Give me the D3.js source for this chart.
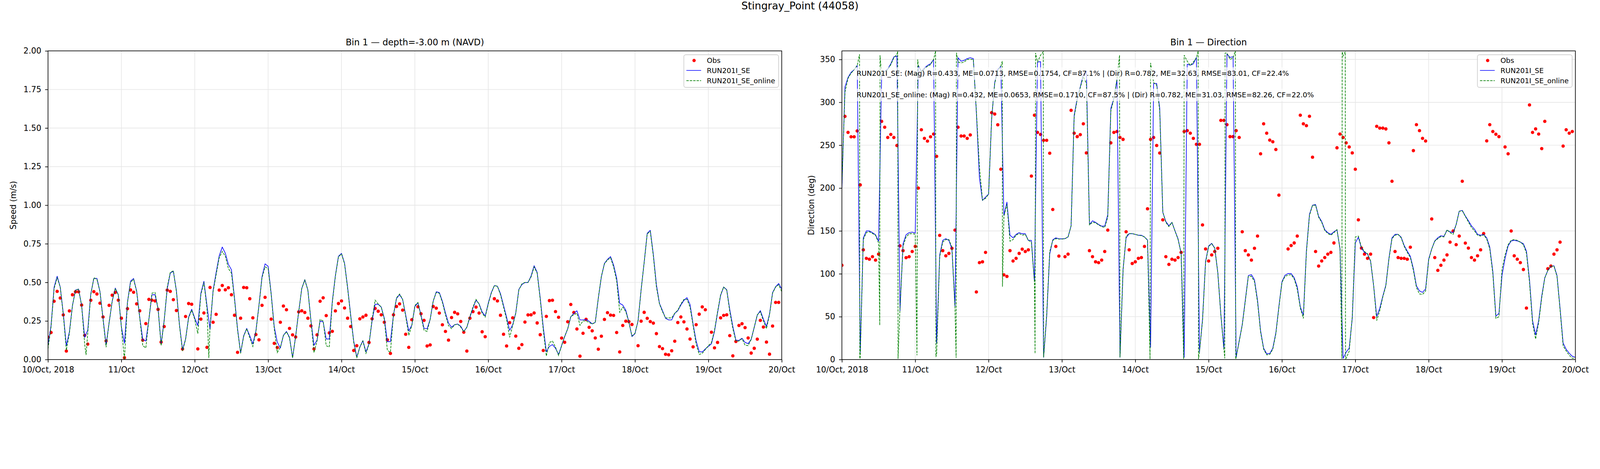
<!DOCTYPE html>
<html><head><meta charset="utf-8">
<script src="https://cdn.jsdelivr.net/npm/d3@7"></script>
<style>
html,body{margin:0;padding:0;background:#fff;overflow:hidden}
#chart{display:block;width:100vw;height:24vw}
text{font-family:"DejaVu Sans",sans-serif;fill:#000}
</style>
</head><body>
<svg id="chart" viewBox="0 0 5000 1200" preserveAspectRatio="xMinYMin meet"></svg>
<script>
// ---------------- DATA ----------------
const startTime = new Date(Date.UTC(2018, 9, 10, 0, 0, 0));
const endTime = new Date(Date.UTC(2018, 9, 20, 0, 0, 0));
const dayTickLabels = ["10/Oct, 2018","11/Oct","12/Oct","13/Oct","14/Oct","15/Oct","16/Oct","17/Oct","18/Oct","19/Oct","20/Oct"];
const speedTicks = [0, 0.25, 0.5, 0.75, 1.0, 1.25, 1.5, 1.75, 2.0];
const dirTicks = [0, 50, 100, 150, 200, 250, 300, 350];
const seriesNames = ["Obs", "RUN201I_SE", "RUN201I_SE_online"];
const figTitle = "Stingray_Point (44058)";
const speedTitle = "Bin 1 \u2014 depth=-3.00 m (NAVD)";
const dirTitle = "Bin 1 \u2014 Direction";
const statLines = [
  "RUN201I_SE: (Mag) R=0.433, ME=0.0713, RMSE=0.1754, CF=87.1% | (Dir) R=0.782, ME=32.63, RMSE=83.01, CF=22.4%",
  "RUN201I_SE_online: (Mag) R=0.432, ME=0.0653, RMSE=0.1710, CF=87.5% | (Dir) R=0.782, ME=31.03, RMSE=82.26, CF=22.0%"
];

// hourly values, 10 Oct 00:00 -> 20 Oct 00:00 (241 points)
const speedObs = [
 0.145,0.175,0.378,0.442,0.399,0.289,0.055,0.315,0.42,0.439,0.439,0.353,0.157,0.10,0.384,0.44,0.425,0.365,0.276,0.121,0.351,0.417,0.435,0.385,
 0.268,0.012,0.33,0.451,0.436,0.361,0.316,0.126,0.233,0.39,0.385,0.38,0.325,0.113,0.214,0.45,0.442,0.388,0.318,null,0.068,0.279,0.363,0.358,
 null,0.069,0.262,0.302,0.079,0.467,0.242,0.293,0.45,0.48,0.452,0.465,0.42,0.287,0.047,0.268,0.467,0.465,0.394,0.27,0.162,0.128,0.351,0.403,
 null,0.262,0.105,0.078,0.242,0.347,0.323,0.202,0.16,0.146,0.309,0.316,0.305,0.268,0.218,0.069,0.16,0.378,0.40,0.285,0.173,0.183,0.315,0.363,
 0.38,0.334,0.268,0.214,0.059,0.09,0.264,0.276,0.287,0.111,0.264,0.331,0.313,0.29,0.242,0.128,0.04,0.29,0.344,0.361,0.32,0.164,0.079,0.258,
 null,0.342,0.297,0.254,0.088,0.095,0.344,0.333,0.301,0.225,0.182,0.126,0.272,0.306,0.296,0.247,0.177,0.055,0.268,0.311,0.34,0.301,0.18,0.148,
 null,null,0.394,0.38,0.287,0.164,0.088,0.239,0.27,0.152,0.073,0.097,0.243,0.289,0.29,0.302,0.237,0.161,0.059,0.28,0.382,0.384,0.311,0.274,
 0.139,0.112,0.245,0.357,0.305,0.198,0.022,0.17,0.261,0.209,0.186,0.14,0.067,0.151,0.26,0.304,0.288,0.286,0.175,0.049,0.221,0.249,0.246,0.227,
 null,0.09,0.249,0.306,0.267,0.246,0.236,0.168,0.084,0.071,0.034,0.031,0.057,0.119,0.24,0.276,0.244,0.198,0.133,0.082,0.226,0.294,0.341,0.323,
 null,0.177,0.076,0.111,0.27,0.286,0.29,0.155,0.024,0.117,0.221,0.232,0.207,0.14,0.042,0.073,0.132,0.254,0.211,0.113,0.035,0.217,0.37,0.37,
 null
];
const speedRun = [
 0.095,0.22,0.47,0.54,0.47,0.30,0.09,0.18,0.35,0.45,0.457,0.35,0.144,0.19,0.427,0.525,0.526,0.44,0.268,0.095,0.24,0.378,0.463,0.42,
 0.213,0.106,0.372,0.508,0.525,0.444,0.275,0.13,0.12,0.26,0.42,0.42,0.33,0.10,0.254,0.458,0.561,0.572,0.447,0.226,0.064,0.133,0.275,0.326,
 0.268,0.22,0.43,0.507,0.35,0.195,0.448,0.565,0.672,0.729,0.689,0.617,0.582,0.40,0.20,0.043,0.154,0.202,0.154,0.102,0.185,0.351,0.537,0.62,
 0.604,0.427,0.213,0.113,0.075,0.157,0.182,0.144,0.012,0.15,0.31,0.46,0.518,0.451,0.254,0.092,0.126,0.25,0.244,0.133,0.133,0.378,0.544,0.669,
 0.688,0.624,0.468,0.289,0.119,0.016,0.081,0.123,0.05,0.102,0.25,0.358,0.358,0.34,0.268,0.116,0.116,0.289,0.396,0.421,0.389,0.289,0.185,0.223,
 0.344,0.368,0.289,0.202,0.2,0.261,0.378,0.439,0.434,0.378,0.302,0.237,0.209,0.226,0.23,0.216,0.182,0.209,0.275,0.334,0.385,0.361,0.309,0.282,
 0.365,0.434,0.479,0.475,0.427,0.351,0.275,0.189,0.226,0.302,0.454,0.486,0.499,0.499,0.541,0.608,0.565,0.399,0.209,0.051,0.085,0.097,0.073,0.033,
 0.091,0.149,0.2,0.277,0.299,0.316,0.257,0.257,0.259,0.248,0.231,0.241,0.397,0.536,0.623,0.649,0.667,0.612,0.528,0.364,0.353,0.319,0.244,0.149,
 0.168,0.251,0.452,0.63,0.818,0.837,0.681,0.485,0.364,0.317,0.267,0.257,0.257,0.299,0.317,0.353,0.383,0.401,0.357,0.23,0.12,0.051,0.049,0.069,
 0.085,0.102,0.182,0.302,0.415,0.47,0.452,0.324,0.215,0.126,0.124,0.138,0.111,0.103,0.131,0.208,0.288,0.317,0.262,0.215,0.295,0.434,0.472,0.493,
 0.457
];
const speedOnline = [
 0.07,0.21,0.46,0.53,0.47,0.29,0.06,0.17,0.35,0.45,0.455,0.35,0.10,0.17,0.42,0.53,0.52,0.44,0.26,0.08,0.24,0.38,0.46,0.42,
 0.21,0.00,0.37,0.50,0.52,0.44,0.27,0.09,0.075,0.26,0.43,0.435,0.33,0.09,0.25,0.47,0.565,0.575,0.44,0.22,0.055,0.13,0.27,0.32,
 0.26,0.168,0.42,0.50,0.33,0.22,0.44,0.55,0.66,0.70,0.67,0.59,0.56,0.39,0.19,0.04,0.15,0.20,0.14,0.085,0.18,0.35,0.53,0.60,
 0.59,0.42,0.20,0.045,0.08,0.155,0.18,0.14,0.01,0.15,0.31,0.46,0.515,0.45,0.25,0.045,0.12,0.26,0.25,0.09,0.081,0.37,0.54,0.665,
 0.685,0.62,0.46,0.28,0.11,0.01,0.08,0.12,0.04,0.10,0.26,0.385,0.36,0.34,0.26,0.06,0.047,0.29,0.40,0.425,0.39,0.28,0.157,0.22,
 0.35,0.37,0.28,0.19,0.182,0.26,0.38,0.435,0.43,0.37,0.29,0.22,0.20,0.225,0.23,0.21,0.18,0.21,0.28,0.34,0.39,0.36,0.30,0.275,
 0.36,0.43,0.48,0.475,0.42,0.34,0.26,0.144,0.22,0.30,0.45,0.49,0.50,0.50,0.535,0.60,0.56,0.39,0.19,0.023,0.11,0.12,0.08,0.026,
 0.09,0.15,0.20,0.28,0.29,0.30,0.222,0.25,0.25,0.24,0.23,0.24,0.40,0.54,0.62,0.645,0.66,0.60,0.51,0.306,0.34,0.31,0.24,0.153,
 0.17,0.25,0.45,0.63,0.815,0.83,0.67,0.47,0.36,0.31,0.27,0.27,0.27,0.30,0.32,0.36,0.39,0.39,0.34,0.22,0.10,0.033,0.04,0.065,
 0.09,0.11,0.19,0.31,0.42,0.47,0.45,0.31,0.20,0.12,0.12,0.135,0.093,0.09,0.13,0.21,0.29,0.31,0.25,0.20,0.29,0.43,0.47,0.485,
 0.44
];
// sub-hourly extremes of the online run, [hour offset, value]
const speedOnlineExtra = [[12.45, 0.03], [52.6, 0.01]];

const dirObs = [
 110,283.6,265,259.8,259.8,266.7,203.7,128,118,117,120,116,123,277.8,271,259,262.6,259,249.7,132.6,127,118.8,120,126,
 132,200,268,258,254.8,259.8,263,237,144.8,127,121,123.8,129.8,151,271,260.7,260.7,258,262,null,78.8,113,114,125,
 null,288,286.4,273.8,222,98.8,97,127,115,118,123.8,128.8,126,128,214,285,265,262.6,255.7,255.7,240.7,175,132,120.7,
 null,120,123,290.7,264,260,262.3,275,241,127,120,114,113,116,126,151,252.8,265,266,259,256.8,149,128,112,
 114,118,119,132,175.8,256.8,259,249.7,240.9,163,120,111,117,116,119,125,266,267,264,258,251,251,157,129,
 115,122,126,129.8,279,279,274,260,260,267,259,149,127,122,116,129.8,144,240,275,264,256,254,245,191.8,
 null,null,129,133,136,144,285,275,272.8,283.8,236,126,109,115,119,123,125,136,247,263,259,252.8,248,241,
 222,163,130,123,118,123,49,272,270,270,269,252.8,208,126,119,118,118,117,131,243.7,274,267,258,254.9,
 null,164,119,104,110,116,122,137,150,134,144,208,135.8,130,119,116,121,128,147,255,274,266,262.8,260,
 null,248,240,150,121,117,113,105,60,297,265,269,263,246,277.8,106,109,123,128,137,249,268,264,266,
 null
];
const dirRun = [
 200,318,329,335,338,343,8.6,142,150,150,148,145.5,138,332,336,339,345,353,354,57,135,145.6,148,148.6,
 147.5,343,336,340,343,345,350,19,122,139,141,139,129,62,352,348,349,351,352,351,288,212,185.5,189.5,
 193,281,323,338.5,342,168,183.6,145,142,146,148,146.7,146.7,139,139,91,347,347.4,2.6,50,123,139.6,142,140.8,
 140.8,141,143,156,285,304.7,318,332.6,336,157.5,161.8,160,157.5,155.6,155.6,169,293,304.7,326.7,2.6,105,142,146.8,146.8,
 146,145,145,143,139.6,14.5,322,322,293,171.8,161,156,160,150,140.8,124,2.6,344.5,343.3,345,352.4,8.6,46.7,114.6,
 132.5,135.6,130,101.5,52.7,12,356.4,352.4,353.3,2.6,21.7,40.7,69.3,98,99,93,69.3,33.6,13.3,6.7,7,13.3,31.2,62.2,
 90.8,98.4,100.3,100.3,95.5,85,61.5,51.5,127,169.4,180,180.8,167,161,151.5,148,146,149,151.5,129,1.4,8.6,13.3,48,
 136,142.7,130,125,123,114.6,86,50.3,59.8,74,87,118,142,146,146,142.7,133,126.5,120.5,106,86,80,78.4,82.4,
 117,129,138.4,142,144.4,143.7,150.8,149,148,157.5,173,174,167.5,162,156,152,146,145,146,142,131,102.7,50.7,53.8,
 98,118,132.5,138.4,139,138.4,137,135,126.5,93,45.5,28.8,45.5,74,95.5,104,108.6,109.4,98,59.8,19.3,12,7.4,3.8,
 2.6
];
const dirOnline = [
 205,312,328,334,338,343,2.6,140,148,149,147,145,136,332,336,338,344,352,356,60,132,143,146.5,147,
 146,343,336,339,342,344,350,6,120,137,140,140,131,60,347,346,347,350,350,350,290,225,186,188,
 193,282,322,337,342,167,181,138,140,145,147,145,146,139,137,90,347,355,2.6,52,126,139,141,140.5,
 140.5,141,143,156,283,303,317,330,322,157,160,159.5,157,155,154,166,290,304,327,2.6,104,144,147,147,
 146,145,144.5,143,139,346,323,320,290,172,160,155,160,150,140,124,355,348,343,347,352,9,45,113,
 132,135,130,101,52,12,357.6,350,352,2.6,21,40,68,97,97,91,67,32,12,5.5,6,12,30,61,
 90,97,98.5,99,94,82,60,48,125,168,180,180,166,160,150.5,147,145,148,151.5,129,354,1.4,9.8,50,
 143,144,131,126,123.5,115,86,45.5,57,73,86,117,141,145,146,142,132,125,119,104,84,76.5,76,80,
 116,129,138,141,143.5,143,151.5,148,146,157.5,173,173.5,167,160.5,154,150,145,144,145.5,140.5,129,100,48,50,
 105,122,134,139,140,139,137,134,124,90,42,24,43,72,95,104,109,109,97,58,16,10,5,1.5,
 1.4
];
const dirOnlineExtra = [
 [5.77,356],[5.85,1],[12.39,40],[12.47,355],[18.26,359.5],[18.37,1],[24.56,5],[24.8,350],
 [30.65,359.9],[30.75,3],[37.37,2],[37.48,358],[52.48,348],[52.54,85],[63.2,7],[63.37,357.6],
 [65.88,359],[90.85,355],[100.83,0.5],[111.83,0.5],[116.58,359.8],[116.69,0.5],
 [125.28,1.4],[125.39,357.6],[128.75,360],[128.86,0.5],[163.6,1],[163.7,359],[164.7,359],[164.8,1]
];

// ---------------- DRAW ----------------
const svg = d3.select("#chart");
const FONT = "DejaVu Sans, sans-serif";
const plotTop = 159, plotBottom = 1123;
const HOUR = 3600e3;
const tAt = h => new Date(startTime.getTime() + h * HOUR);
const hourly = arr => arr.map((v, i) => ({h: i, v}));
const withExtra = (arr, extra) => hourly(arr).concat(extra.map(([h, v]) => ({h, v}))).sort((a, b) => a.h - b.h);
const dayTicks = d3.utcDay.range(startTime, new Date(endTime.getTime() + 1));

svg.append("rect").attr("width", 5000).attr("height", 1200).attr("fill", "#fff");

svg.append("text").attr("x", 2500).attr("y", 29).attr("text-anchor", "middle")
  .attr("font-size", 32).text(figTitle);

const panels = [
  {id: "spd", x0: 150, x1: 2443, domain: [0, 2], ticks: speedTicks, fmt: d3.format(".2f"),
   title: speedTitle, ylabel: "Speed (m/s)", ylabelX: 42,
   obs: speedObs, run: speedRun, online: withExtra(speedOnline, speedOnlineExtra), stats: false},
  {id: "dir", x0: 2631, x1: 4923, domain: [0, 360], ticks: dirTicks, fmt: d3.format("d"),
   title: dirTitle, ylabel: "Direction (deg)", ylabelX: 2536,
   obs: dirObs, run: dirRun, online: withExtra(dirOnline, dirOnlineExtra), stats: true}
];

panels.forEach(p => {
  const x = d3.scaleUtc().domain([startTime, endTime]).range([p.x0, p.x1]);
  const y = d3.scaleLinear().domain(p.domain).range([plotBottom, plotTop]);
  const g = svg.append("g");

  g.append("clipPath").attr("id", "clip-" + p.id).append("rect")
    .attr("x", p.x0).attr("y", plotTop).attr("width", p.x1 - p.x0).attr("height", plotBottom - plotTop);

  // grid
  const grid = g.append("g").attr("stroke", "#e6e6e6").attr("stroke-width", 2);
  grid.selectAll("line.v").data(dayTicks).join("line")
    .attr("x1", d => x(d)).attr("x2", d => x(d)).attr("y1", plotTop).attr("y2", plotBottom);
  grid.selectAll("line.h").data(p.ticks).join("line")
    .attr("x1", p.x0).attr("x2", p.x1).attr("y1", d => y(d)).attr("y2", d => y(d));

  const plot = g.append("g").attr("clip-path", `url(#clip-${p.id})`);
  // obs
  plot.selectAll("circle").data(hourly(p.obs).filter(d => d.v != null)).join("circle")
    .attr("cx", d => x(tAt(d.h))).attr("cy", d => y(d.v)).attr("r", 5.2).attr("fill", "#ff0000");
  const line = d3.line().defined(d => d.v != null).x(d => x(tAt(d.h))).y(d => y(d.v));
  plot.append("path").attr("d", line(hourly(p.run))).attr("fill", "none")
    .attr("stroke", "#0000ff").attr("stroke-width", 2).attr("stroke-linejoin", "round");
  plot.append("path").attr("d", line(p.online)).attr("fill", "none")
    .attr("stroke", "#008000").attr("stroke-width", 2).attr("stroke-dasharray", "7.4,3.2");

  // axes
  const xa = g.append("g").attr("transform", `translate(0,${plotBottom})`)
    .call(d3.axisBottom(x).tickValues(dayTicks).tickFormat((d, i) => dayTickLabels[i]).tickSize(9).tickPadding(13));
  const ya = g.append("g").attr("transform", `translate(${p.x0},0)`)
    .call(d3.axisLeft(y).tickValues(p.ticks).tickFormat(p.fmt).tickSize(9).tickPadding(12));
  [xa, ya].forEach(a => {
    a.select(".domain").remove();
    a.selectAll(".tick line").attr("stroke", "#000").attr("stroke-width", 2);
    a.selectAll(".tick text").attr("font-size", 25).attr("font-family", FONT).attr("fill", "#000");
  });

  // spines
  g.append("rect").attr("x", p.x0).attr("y", plotTop).attr("width", p.x1 - p.x0)
    .attr("height", plotBottom - plotTop).attr("fill", "none").attr("stroke", "#000").attr("stroke-width", 2);

  // titles
  g.append("text").attr("x", (p.x0 + p.x1) / 2).attr("y", 141).attr("text-anchor", "middle")
    .attr("font-size", 27.5).text(p.title);
  g.append("text").attr("transform", `translate(${p.ylabelX},${(plotTop + plotBottom) / 2}) rotate(-90)`)
    .attr("text-anchor", "middle").attr("dominant-baseline", "central").attr("font-size", 25).text(p.ylabel);

  // stats text
  if (p.stats) {
    [229, 296].forEach((yy, i) => {
      const tg = g.append("g");
      const t = tg.append("text").attr("x", p.x0 + 46).attr("y", yy).attr("dominant-baseline", "central")
        .attr("font-size", 22).text(statLines[i]);
      const bb = t.node().getBBox();
      tg.insert("rect", "text").attr("x", bb.x - 8).attr("y", bb.y - 6).attr("width", bb.width + 16)
        .attr("height", bb.height + 12).attr("fill", "#fff").attr("fill-opacity", 0.7);
    });
  }

  // legend
  const lw = 296, lh = 102, lx = p.x1 - 10 - lw, ly = plotTop + 12;
  const lg = g.append("g");
  lg.append("rect").attr("x", lx).attr("y", ly).attr("width", lw).attr("height", lh).attr("rx", 6)
    .attr("fill", "#fff").attr("fill-opacity", 0.8).attr("stroke", "#cccccc").attr("stroke-width", 2);
  const rows = [ly + 18, ly + 49, ly + 81];
  lg.append("circle").attr("cx", lx + 32).attr("cy", rows[0]).attr("r", 5.2).attr("fill", "#ff0000");
  lg.append("line").attr("x1", lx + 8).attr("x2", lx + 54).attr("y1", rows[1]).attr("y2", rows[1])
    .attr("stroke", "#0000ff").attr("stroke-width", 2);
  lg.append("line").attr("x1", lx + 8).attr("x2", lx + 54).attr("y1", rows[2]).attr("y2", rows[2])
    .attr("stroke", "#008000").attr("stroke-width", 2).attr("stroke-dasharray", "7.4,3.2");
  seriesNames.forEach((n, i) => {
    lg.append("text").attr("x", lx + 72).attr("y", rows[i]).attr("dominant-baseline", "central")
      .attr("font-size", 22).text(n);
  });
});
</script>
</body></html>
